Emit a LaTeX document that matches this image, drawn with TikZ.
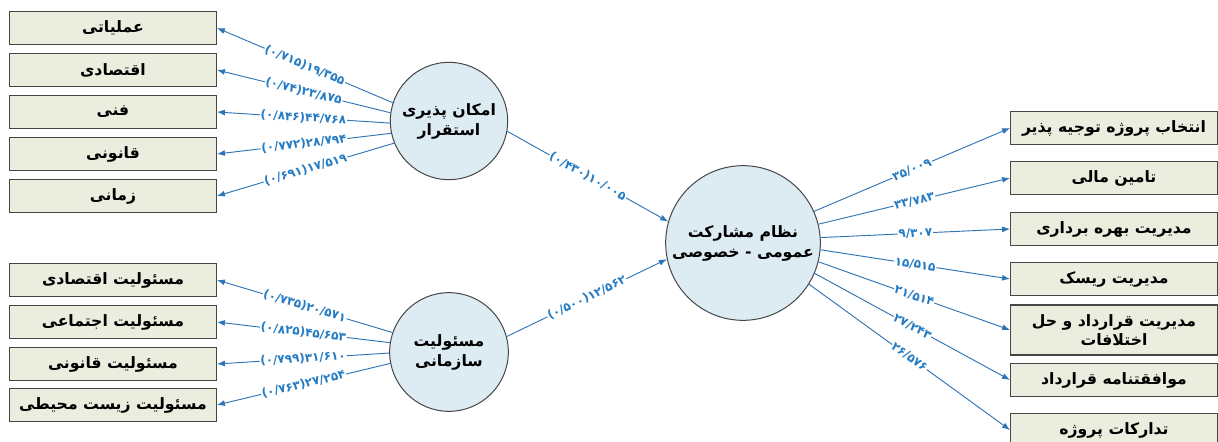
\documentclass[tikz,border=0pt]{standalone}
\usepackage{fontspec}
\newfontfamily\fa[Script=Arabic]{DejaVu Sans}
\newfontfamily\numfont{DejaVu Sans}
\TeXXeTstate=1
\usetikzlibrary{arrows.meta}
\definecolor{boxfill}{RGB}{235,237,222}
\definecolor{circfill}{RGB}{221,235,243}
\definecolor{edgegray}{RGB}{70,70,70}
\definecolor{arrblue}{RGB}{46,117,182}
\definecolor{numblue}{RGB}{38,124,196}
\newcommand{\fatext}[1]{\beginR #1\endR}

\begin{document}
\begin{tikzpicture}[x=0.75pt, y=-0.75pt,
    item/.style={draw=edgegray, line width=0.9pt, fill=boxfill, minimum width=155pt,
      minimum height=25pt, inner sep=1pt, align=center,
      font=\fa\bfseries\fontsize{11.75}{14.5}\selectfont},
    hub/.style={circle, draw=edgegray, line width=0.75pt, fill=circfill, inner sep=0pt,
      align=center, font=\fa\bfseries\fontsize{11.75}{15}\selectfont},
    link/.style={arrblue, line width=0.7pt, -{Latex[length=6pt,width=4.5pt]}},
    coef/.style={sloped, fill=white, inner sep=0.6pt, text=numblue,
      font=\numfont\bfseries\fontsize{9}{9}\selectfont}]
    \useasboundingbox (0,0) rectangle (1218,442);

%circles
    \node[hub, minimum size=88pt] (A) at (449,121) {\fatext{امکان پذیری}\\\fatext{استقرار}};
    \node[hub, minimum size=89pt] (B) at (449,352) {\fatext{مسئولیت}\\\fatext{سازمانی}};
    \node[hub, minimum size=116pt] (C) at (743,243) {\fatext{نظام مشارکت}\\\fatext{عمومی - خصوصی}};

%left, top
    \node[item] (l1) at (113,28) {\fatext{عملیاتی}};
    \node[item] (l2) at (113,70) {\fatext{اقتصادی}};
    \node[item] (l3) at (113,112) {\fatext{فنی}};
    \node[item] (l4) at (113,154) {\fatext{قانونی}};
    \node[item] (l5) at (113,196) {\fatext{زمانی}};

%left, bottom
    \node[item] (m1) at (113,280) {\fatext{مسئولیت اقتصادی}};
    \node[item] (m2) at (113,322) {\fatext{مسئولیت اجتماعی}};
    \node[item] (m3) at (113,364) {\fatext{مسئولیت قانونی}};
    \node[item] (m4) at (113,405) {\fatext{مسئولیت زیست محیطی}};

%right
    \node[item] (r1) at (1114,128) {\fatext{انتخاب پروژه توجیه پذیر}};
    \node[item] (r2) at (1114,178) {\fatext{تامین مالی}};
    \node[item] (r3) at (1114,229) {\fatext{مدیریت بهره برداری}};
    \node[item] (r4) at (1114,279) {\fatext{مدیریت ریسک}};
    \node[item, minimum height=37.5pt] (r5) at (1114,330) {\fatext{مدیریت قرارداد و حل}\\\fatext{اختلافات}};
    \node[item] (r6) at (1114,380) {\fatext{موافقتنامه قرارداد}};
    \node[item] (r7) at (1114,430) {\fatext{تدارکات پروژه}};

%arrows
    \draw[link] (A.162) -- node[coef] {(۰/۷۱۵)۱۹/۳۵۵} (l1.east);
    \draw[link] (A.172) -- node[coef] {(۰/۷۴)۲۳/۸۷۵} (l2.east);
    \draw[link] (A.182) -- node[coef] {(۰/۸۴۶)۴۴/۷۶۸} (l3.east);
    \draw[link] (A.192) -- node[coef] {(۰/۷۷۲)۲۸/۷۹۴} (l4.east);
    \draw[link] (A.202) -- node[coef] {(۰/۶۹۱)۱۷/۵۱۹} (l5.east);

    \draw[link] (B.161) -- node[coef] {(۰/۷۳۵)۲۰/۵۷۱} (m1.east);
    \draw[link] (B.171) -- node[coef] {(۰/۸۲۵)۴۵/۶۵۳} (m2.east);
    \draw[link] (B.181) -- node[coef] {(۰/۷۹۹)۳۱/۶۱۰} (m3.east);
    \draw[link] (B.191) -- node[coef] {(۰/۷۶۳)۲۷/۲۵۴} (m4.east);

    \draw[link] (A.-10) -- node[coef] {(۰/۴۳۰)۱۰/۰۰۵} (C.164);
    \draw[link] (B.15) -- node[coef] {(۰/۵۰۰)۱۲/۵۶۲} (C.192);

    \draw[link] (C.24) -- node[coef] {۳۵/۰۰۹} (r1.west);
    \draw[link] (C.14) -- node[coef] {۳۳/۷۸۳} (r2.west);
    \draw[link] (C.4) -- node[coef] {۹/۳۰۷} (r3.west);
    \draw[link] (C.-5) -- node[coef] {۱۵/۵۱۵} (r4.west);
    \draw[link] (C.-14) -- node[coef] {۲۱/۵۱۴} (r5.west);
    \draw[link] (C.-23) -- node[coef] {۲۷/۲۴۳} (r6.west);
    \draw[link] (C.-32) -- node[coef] {۲۶/۵۷۶} (r7.west);
\end{tikzpicture}
\end{document}
